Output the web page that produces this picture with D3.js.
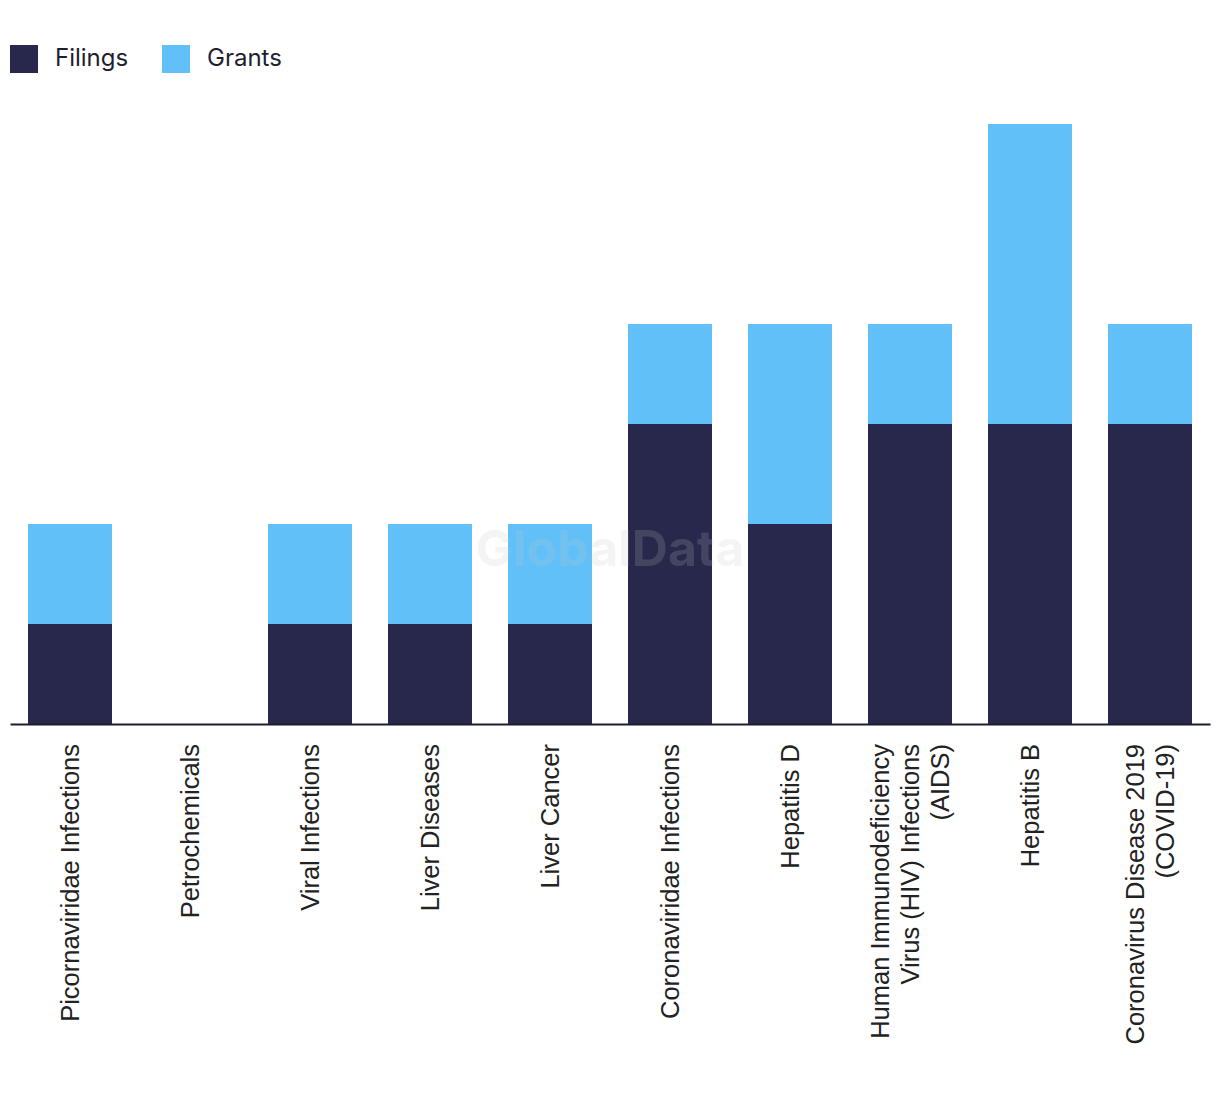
<!DOCTYPE html>
<html><head><meta charset="utf-8">
<script src="https://cdn.jsdelivr.net/npm/d3@7"></script>
<style>body{margin:0;background:#fff}</style>
</head><body>
<svg id="chart" width="1220" height="1094"></svg>
<script>
const categories = [
  ["Picornaviridae Infections"],
  ["Petrochemicals"],
  ["Viral Infections"],
  ["Liver Diseases"],
  ["Liver Cancer"],
  ["Coronaviridae Infections"],
  ["Hepatitis D"],
  ["Human Immunodeficiency", "Virus (HIV) Infections", "(AIDS)"],
  ["Hepatitis B"],
  ["Coronavirus Disease 2019", "(COVID-19)"]
];
const filings = [1, 0, 1, 1, 1, 3, 2, 3, 3, 3];
const grants  = [1, 0, 1, 1, 1, 1, 2, 1, 3, 1];
const seriesNames = ["Filings", "Grants"];
const colors = ["#27284b", "#61c0f8"];

const svg = d3.select("#chart");
const keys = categories.map((c, i) => "c" + i);
const x = d3.scaleBand().domain(keys).range([10, 1210]).paddingInner(0.3).paddingOuter(0.15);
const y = d3.scaleLinear().domain([0, 6]).range([724, 124]);

const rows = keys.map((k, i) => ({key: k, Filings: filings[i], Grants: grants[i]}));
const stack = d3.stack().keys(seriesNames)(rows);

svg.append("g").selectAll("g").data(stack).join("g")
  .attr("fill", (d, i) => colors[i])
  .selectAll("rect").data(d => d).join("rect")
  .attr("x", d => x(d.data.key))
  .attr("width", x.bandwidth())
  .attr("y", d => y(d[1]))
  .attr("height", d => y(d[0]) - y(d[1]));

// watermark
svg.append("text").attr("x", 610).attr("y", 566).attr("text-anchor", "middle")
  .attr("font-family", "Inter, 'Liberation Sans', sans-serif").attr("font-weight", 700)
  .attr("font-size", 50).attr("fill", "#c8c8c8").attr("opacity", 0.18).text("GlobalData");

// axis
const axis = svg.append("g").attr("transform", "translate(0,724)")
  .call(d3.axisBottom(x).tickSize(0).tickFormat(""));
axis.select(".domain").attr("stroke", "#1c1c30").attr("stroke-width", 2);

const lab = svg.append("g").attr("font-family", "'Liberation Sans', Arial, sans-serif")
  .attr("font-size", 25.5).attr("fill", "#222");
categories.forEach((lines, i) => {
  const cx = x(keys[i]) + x.bandwidth() / 2;
  const n = lines.length;
  const t = lab.append("text")
    .attr("transform", `translate(${cx},744) rotate(-90)`)
    .attr("text-anchor", "end");
  lines.forEach((ln, j) => {
    t.append("tspan").attr("x", 0)
      .attr("y", (j - (n - 1) / 2) * 30)
      .attr("dy", "0.35em").text(ln);
  });
});

// legend
const legendX = [10, 162];
seriesNames.forEach((s, i) => {
  svg.append("rect").attr("x", legendX[i]).attr("y", 45).attr("width", 28).attr("height", 28).attr("fill", colors[i]);
  svg.append("text").attr("x", legendX[i] + 45).attr("y", 58).attr("dy", "0.35em")
    .attr("font-family", "Inter, 'Noto Sans', sans-serif").attr("font-size", 24)
    .attr("fill", "#1e1e30").text(s);
});
</script>
</body></html>
